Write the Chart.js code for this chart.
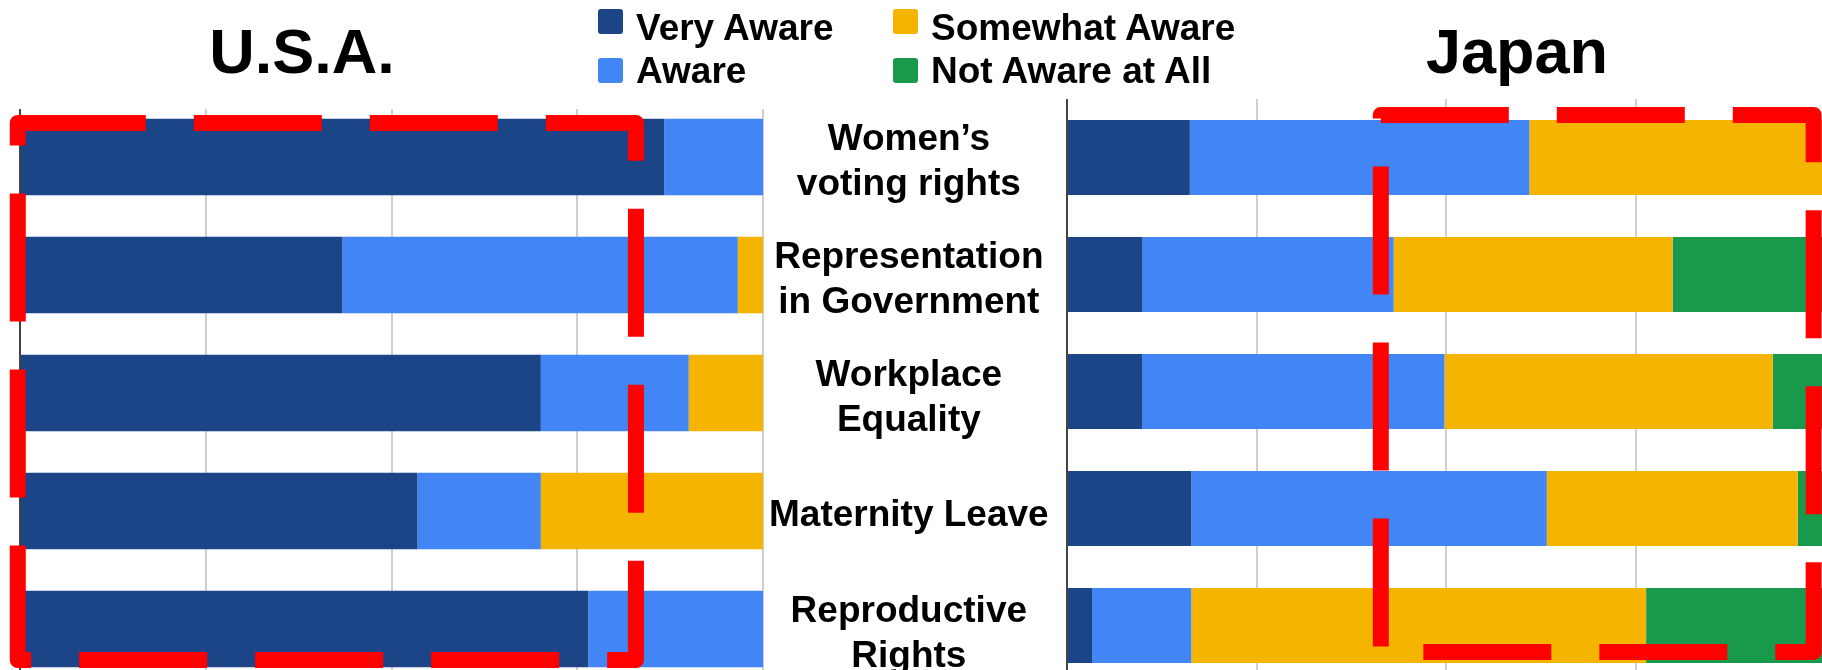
<!DOCTYPE html>
<html>
<head>
<meta charset="utf-8">
<script src="https://cdn.jsdelivr.net/npm/chart.js@4.4.1/dist/chart.umd.min.js"></script>
<style>
html, body { margin: 0; padding: 0; background: #ffffff; }
#wrap { position: relative; width: 1822px; height: 670px; overflow: hidden; background: #ffffff;
        font-family: 'Liberation Sans', Arial, sans-serif; color: #000; }
canvas { position: absolute; top: 0; }
#usa { left: 0; }
#jpn { left: 1000px; }
.title { position: absolute; top: 20px; font-weight: bold; font-size: 63px; line-height: 63px;
         transform: translateX(-50%); white-space: nowrap; }
.leg { position: absolute; font-weight: bold; font-size: 37px; line-height: 45px; height: 45px;
       padding-left: 38px; white-space: nowrap; }
.leg i { position: absolute; left: 0; width: 25px; height: 25px; border-radius: 3px; }
</style>
</head>
<body>
<div id="wrap">
  <canvas id="usa" width="1063" height="760"></canvas>
  <canvas id="jpn" width="825" height="760"></canvas>
  <div class="title" style="left:302px">U.S.A.</div>
  <div class="title" style="left:1517px">Japan</div>
  <div id="legend"></div>
</div>
<script>
// ---------- data ----------
const categories = [
  ['Women\u2019s', 'voting rights'],
  ['Representation', 'in Government'],
  ['Workplace', 'Equality'],
  'Maternity Leave',
  ['Reproductive', 'Rights']
];
const seriesNames = ['Very Aware', 'Aware', 'Somewhat Aware', 'Not Aware at All'];
const seriesColors = ['#1c4587', '#4285f4', '#f4b400', '#18994c'];

// U.S.A. (percent of respondents)
const usaVeryAware     = [86.7, 43.4, 70.1, 53.5, 76.5];
const usaAware         = [13.3, 53.2, 19.9, 16.6, 23.5];
const usaSomewhatAware = [0.0,  3.4,  10.0, 29.9, 0.0];
const usaNotAware      = [0.0,  0.0,  0.0,  0.0,  0.0];

// Japan (percent of respondents)
const jpnVeryAware     = [16.2, 9.9,  9.9,  16.4, 3.3];
const jpnAware         = [44.8, 33.2, 39.9, 46.9, 13.1];
const jpnSomewhatAware = [39.0, 36.8, 43.3, 33.1, 60.0];
const jpnNotAware      = [0.0,  20.1, 6.9,  3.6,  23.6];

const xTickStep = 25;   // grid every 25 %
const xMin = 0, xMax = 100;

// highlight boxes (in data units: x in %, y in category index)
const usaHighlight = { xMin: -0.3, xMax: 82.9, yMin: -0.288, yMax: 4.263 };
const jpnHighlight = { xMin: 41.4, xMax: 98.5, yMin: -0.363, yMax: 4.226 };

// ---------- helpers ----------
const FONT = "'Liberation Sans', Arial, sans-serif";

function makeDatasets(series) {
  return series.map((vals, i) => ({
    label: seriesNames[i],
    data: vals,
    backgroundColor: seriesColors[i],
    borderWidth: 0
  }));
}

const highlightPlugin = {
  id: 'highlight',
  beforeDatasetsDraw(chart, args, opts) {
    if (opts.gridInset) {
      const a = chart.chartArea, ctx = chart.ctx;
      ctx.save();
      ctx.fillStyle = '#ffffff';
      ctx.fillRect(a.left - 4, a.top - 1, a.right - a.left + 8, opts.gridInset + 1);
      ctx.restore();
    }
  },
  afterDraw(chart, args, opts) {
    const b = opts.box;
    if (!b) return;
    const xs = chart.scales.x, ys = chart.scales.y, ctx = chart.ctx;
    const l = xs.getPixelForValue(b.xMin), r = xs.getPixelForValue(b.xMax);
    const t = ys.getPixelForValue(b.yMin), bt = ys.getPixelForValue(b.yMax);
    ctx.save();
    ctx.strokeStyle = '#ff0000';
    ctx.lineWidth = 16;
    ctx.lineJoin = 'round';
    ctx.setLineDash([128, 48]);
    ctx.beginPath();
    ctx.moveTo(l, t);
    ctx.lineTo(r, t);
    ctx.lineTo(r, bt);
    ctx.lineTo(l, bt);
    ctx.closePath();
    ctx.stroke();
    ctx.restore();
  }
};

function xScale() {
  return {
    type: 'linear',
    stacked: true,
    min: xMin,
    max: xMax,
    display: true,
    ticks: { display: false, stepSize: xTickStep },
    border: { display: false },
    grid: {
      drawTicks: false,
      color: (c) => (c.tick && c.tick.value === xMin) ? '#444444' : '#cfcfcf',
      lineWidth: 2
    }
  };
}

// ---------- U.S.A. chart (with category labels on its right) ----------
new Chart(document.getElementById('usa'), {
  type: 'bar',
  data: {
    labels: categories,
    datasets: makeDatasets([usaVeryAware, usaAware, usaSomewhatAware, usaNotAware])
  },
  options: {
    indexAxis: 'y',
    responsive: false,
    animation: false,
    devicePixelRatio: 1,
    layout: { padding: { left: 20, right: 0, top: 98, bottom: 72 } },
    datasets: { bar: { barPercentage: 0.65, categoryPercentage: 1.0 } },
    plugins: {
      legend: { display: false },
      title: { display: false },
      tooltip: { enabled: false },
      highlight: { gridInset: 11, box: usaHighlight }
    },
    scales: {
      x: xScale(),
      y: {
        type: 'category',
        stacked: true,
        position: 'right',
        border: { display: false },
        grid: { display: false, drawTicks: false },
        ticks: {
          autoSkip: false,
          crossAlign: 'center',
          padding: 6,
          labelOffset: 5,
          color: '#000000',
          font: { family: FONT, size: 37, weight: 'bold', lineHeight: 1.22 }
        },
        afterFit: (scale) => { scale.width = 300; }
      }
    }
  },
  plugins: [highlightPlugin]
});

// ---------- Japan chart ----------
new Chart(document.getElementById('jpn'), {
  type: 'bar',
  data: {
    labels: categories,
    datasets: makeDatasets([jpnVeryAware, jpnAware, jpnSomewhatAware, jpnNotAware])
  },
  options: {
    indexAxis: 'y',
    responsive: false,
    animation: false,
    devicePixelRatio: 1,
    layout: { padding: { left: 67, right: 0, top: 99, bottom: 76 } },
    datasets: { bar: { barPercentage: 0.64, categoryPercentage: 1.0 } },
    plugins: {
      legend: { display: false },
      title: { display: false },
      tooltip: { enabled: false },
      highlight: { gridInset: 0, box: jpnHighlight }
    },
    scales: {
      x: xScale(),
      y: { type: 'category', stacked: true, display: false }
    }
  },
  plugins: [highlightPlugin]
});

// ---------- legend (two columns, column-major) ----------
const legendCols = [598, 893];
const legendRows = [5, 48];
const legendBoxTop = [4, 10];
const legend = document.getElementById('legend');
seriesNames.forEach((name, i) => {
  const col = Math.floor(i / 2), row = i % 2;
  const d = document.createElement('div');
  d.className = 'leg';
  d.style.left = legendCols[col] + 'px';
  d.style.top = legendRows[row] + 'px';
  const box = document.createElement('i');
  box.style.background = seriesColors[i];
  box.style.top = legendBoxTop[row] + 'px';
  d.appendChild(box);
  d.appendChild(document.createTextNode(name));
  legend.appendChild(d);
});
</script>
</body>
</html>
